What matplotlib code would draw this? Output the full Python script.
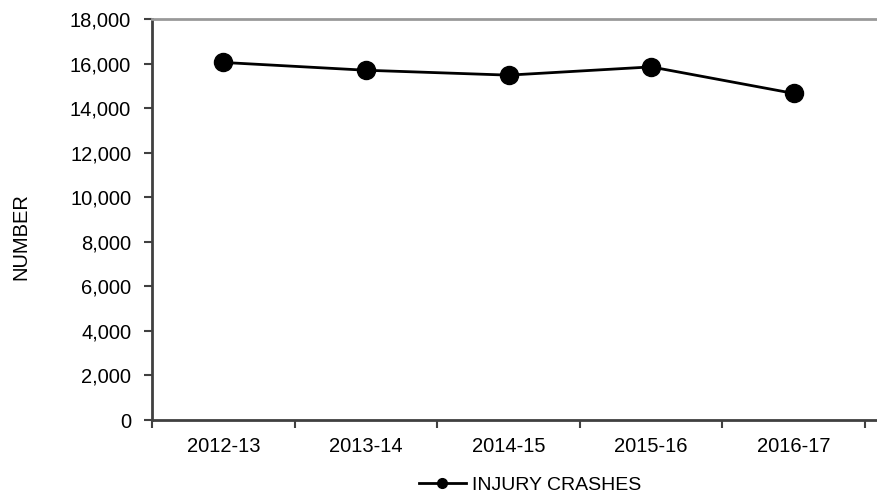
import matplotlib
matplotlib.use("Agg")
import matplotlib.pyplot as plt
from matplotlib.lines import Line2D
from matplotlib.ticker import FuncFormatter

plt.rcParams['font.family'] = ['Liberation Sans', 'DejaVu Sans']

years = ['2012-13', '2013-14', '2014-15', '2015-16', '2016-17']
injury_crashes = [16050, 15700, 15480, 15850, 14660]
y_ticks = list(range(0, 18001, 2000))

fig = plt.figure(figsize=(8.77, 5.0), dpi=100)
ax = fig.add_axes([152 / 877, 80 / 500, 725 / 877, 401 / 500])

x = list(range(len(years)))
ax.plot(x, injury_crashes, color='black', lw=2, marker='o', markersize=13,
        markerfacecolor='black', markeredgecolor='black')

ax.set_xlim(-0.5, 4.5 + 12 / 142.6)
ax.set_ylim(0, 18000)

ax.set_yticks(y_ticks)
ax.yaxis.set_major_formatter(FuncFormatter(lambda v, p: f"{int(v):,}"))
ax.tick_params(axis='y', direction='out', length=6, width=1.5, color='#404040',
               labelsize=14.5, pad=9)

# category labels between boundary ticks
ax.set_xticks(x)
ax.set_xticklabels(years)
ax.set_xticks([i - 0.5 for i in range(len(years) + 1)], minor=True)
ax.tick_params(axis='x', which='major', length=0, labelsize=14.5, pad=12)
ax.tick_params(axis='x', which='minor', direction='out', length=6, width=1.5,
               color='#404040')

for side in ['left', 'bottom']:
    ax.spines[side].set_color('#404040')
    ax.spines[side].set_linewidth(2)
ax.spines['top'].set_color('#999999')
ax.spines['top'].set_linewidth(2)
ax.spines['right'].set_visible(False)

fig.text(21 / 877, 1 - 237 / 500, 'NUMBER', rotation=90, ha='center',
         va='center', fontsize=14.5)

handle = Line2D([], [], color='black', lw=2, marker='o', markersize=7)
fig.legend([handle], ['INJURY CRASHES'], loc='center',
           bbox_to_anchor=(530 / 877, 1 - 485 / 500), frameon=False,
           fontsize=14, handlelength=2.4, handletextpad=0.3)

fig.savefig('out.png', dpi=100)
